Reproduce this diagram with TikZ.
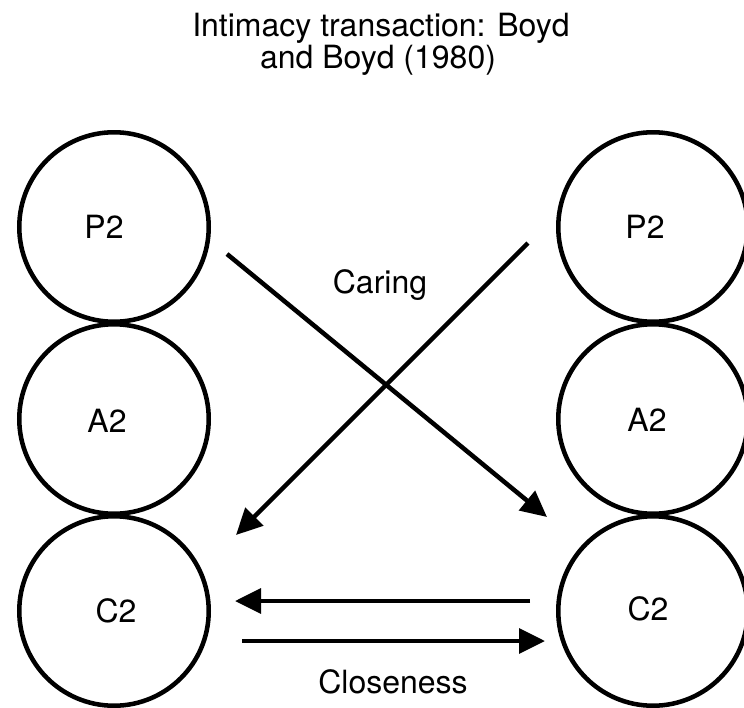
\documentclass[tikz,border=0pt]{standalone}
\usepackage{fontspec}
\setmainfont{TeX Gyre Heros}
\usetikzlibrary{arrows.meta}

\begin{document}
\begin{tikzpicture}[
  x=0.75pt, y=-0.75pt,
  ring/.style={circle, draw=black, line width=3.4pt, minimum size=142.1pt, inner sep=0pt},
  txt/.style={inner sep=0pt, font=\fontsize{24}{28}\selectfont},
  link/.style={line width=3.4pt, -{Triangle[length=19.5pt, width=18.5pt]}}
]
% canvas
\useasboundingbox (0,0) rectangle (744,708);

% title
\node[txt, anchor=base] (title1) at (381,36) {Intimacy transaction: Boyd};
\node[txt, anchor=base] (title2) at (378,68) {and Boyd (1980)};

% left column
\node[ring] (lp) at (114,227) {};
\node[ring] (la) at (114,419) {};
\node[ring] (lc) at (114,611) {};
% right column
\node[ring] (rp) at (653,227) {};
\node[ring] (ra) at (653,419) {};
\node[ring] (rc) at (653,611) {};

% circle labels
\node[txt] (lpt) at (104,227) {P2};
\node[txt] (lat) at (107,421) {A2};
\node[txt] (lct) at (116,611) {C2};
\node[txt] (rpt) at (645,227) {P2};
\node[txt] (rat) at (647,420) {A2};
\node[txt] (rct) at (648,609) {C2};

% connector end points
\coordinate (c1s) at (227,254);
\coordinate (c1e) at (547,517);
\coordinate (c2s) at (528,243);
\coordinate (c2e) at (236,535);
\coordinate (h1s) at (530,601);
\coordinate (h1e) at (235,601);
\coordinate (h2s) at (242,641);
\coordinate (h2e) at (545,641);

% caring arrows
\draw[link] (c1s) -- (c1e);
\draw[link] (c2s) -- (c2e);
% closeness arrows
\draw[link] (h1s) -- (h1e);
\draw[link] (h2s) -- (h2e);

% arrow labels
\node[txt, anchor=base] (caring) at (380,293) {Caring};
\node[txt, anchor=base] (close) at (393,693) {Closeness};
\end{tikzpicture}
\end{document}
